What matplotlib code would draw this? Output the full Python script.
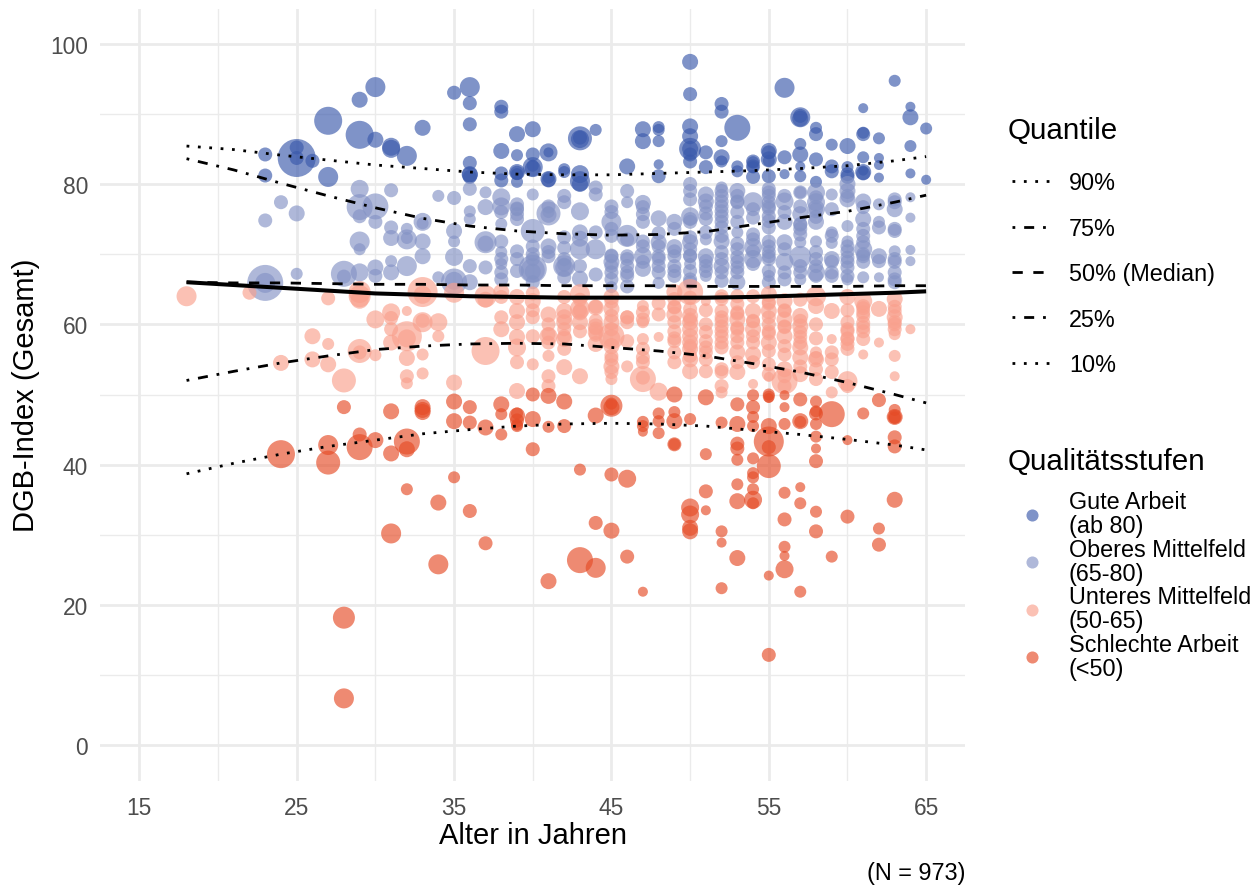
import numpy as np
import matplotlib
matplotlib.use("Agg")
import matplotlib.pyplot as plt
from matplotlib.lines import Line2D
from matplotlib.legend_handler import HandlerLine2D

plt.rcParams['font.family'] = ['Liberation Sans', 'DejaVu Sans']

# Punktdaten je Qualitaetsstufe: Alter, DGB-Index je Alter, Gewicht je Punkt
gute_alter = [23,25,26,27,29,30,31,32,33,35,36,38,39,40,41,42,43,44,46,47,48,50,51,52,53,54,55,56,57,58,59,60,61,62,63,64,65]
gute_index = [[84.2,81.2],[83.7,85.2,83.7],[83.3],[89,81],[87,92],[93.8,86.3],[85.3,85],[84],[88],[93],
 [93.8,91.5,88.5,83,81.4,81,81.3],[91,90.3,84.7,80.5,81.5],[87.1,84.1,81.7,81.6,81.4,80.3],[87.8,84.2,82.4,82.2,82.6],[84.5,84.5,80.7,80.5,80.9],[82.1,81.7],
 [86.5,86.4,86.6,81.4,80.4,80],[87.7],[82.5],[87.8,86.1],[88.1,87.7,86.1,82.8,81.1],[97.4,92.8,88.2,86.8,85,85,84.2,83.2],[84.5,82.4],[91.4,90.3,86.1,83.8,83.2],
 [88,82.5,81.8],[83.2,82.5,81,83.1,82.4],[84.7,83.5,81.1,84.5,83.3],[93.7,83.8,81.4],[89.5,89.3,89.7,85.7,84.2,82.5,81.1],[88,87.1,83.5,80.3],[85.6,82.5,81.8],
 [85.4,82.4,81.4,81],[90.8,87.1,87.3,83.8,81.7,81.5,81.9],[86.5,83.7,82.7,80.9],[94.7],[91,89.5,85.4,81.5],[87.9,80.6]]
gute_gewicht = [[7,7],[19,7,7],[7],[14,10],[14,8],[10,8],[9,9],[10],[8],[7],
 [10,7,7,7,8,7,8],[7,7,8,7,7],[8,6,8,7,6,6],[8,7,10,8,6],[9,5,8,7,6],[6,6],
 [12,9,7,9,10,8],[6],[8],[8,8],[6,6,6,5,7],[8,7,8,8,11,8,7,7],[7,7],[7,7,6,8,6],
 [13,6,6],[7,7,7,6,6],[8,8,7,7,6],[10,7,5],[10,8,7,6,8,5,6],[6,7,7,6],[6,7,7],
 [8,6,7,7],[5,7,6,6,8,7,5],[6,5,5,5],[6],[5,8,6,5],[6,5]]

oberes_alter = [23,24,25,28,29,30,31,32,33,34,35,36,37,38,39,40,41,42,43,44,45,46,47,48,49,50,51,52,53,54,55,56,57,58,59,60,61,62,63,64]
oberes_index = [[74.8,65.9,65.9],[77.4],[75.8,67.2],[67.2,66.8],[79.3,76.7,75.4,71.8,70.7,67.4],[76.8,74.6,68.1,66.9],[79.1,73.8,72.3,69,67.4],[73.6,72.1,68.3,72.3],
 [74.6,71.8,69.7,74.4],[78.3,66.7],[78,73.3,71.8,69.6,66.1,66.2],[79.3,76.1,75,68.3,66],[78.8,76.7,71.7,71.5,68.1],[78.1,76.8,74.3,71.8,70.3,68.6,66.4],[77.1,75.7,75,70.4,67.6,76.5],
 [78.5,73.3,70,67.9,67.7,67.5,66],[75.8,75.6,76,71.1,69.7],[78.3,68.3,68.1,68.5,66.7,70.9,72.4],[76.1,73.1,70.7,66.5,68.3,72.2],[79.5,78.5,70.7,67.1,73.1],[76.8,74.6,72.6,68.9,68.3,65.3,69.8],
 [79,77.4,72.6,69.7,68.3,66.9],[77.3,75.7,69.7,67.9,71.8],[75.1,71.7,69.7,68.3,65.9,73],[74.6,71,68.3,66.9,70.4],[80,75.4,74.6,71.7,70.7,68.6,66.4,77.8,69.8],[78.5,77.5,72.1,69.7,68.3,66.9,75.8],
 [79.5,78.3,76.8,75.4,71.8,70.3,68.3,66.2,73.8],[79,76,73.1,69.6,68.9,66,71.5,77.5],[77.4,72.8,71,69.3,75.2],[79.3,78.3,77.4,75.4,71.8,70.3,69.7,66.9,73.8,76.5],[77.5,74.6,71.7,68.9,66.4],
 [78.8,75.7,72.8,71.7,69.6,66.4,74.2],[78.8,77.4,76.4,74.6,71.8,69.3,67.4],[78.5,76.4,73.1,71.6,69.3,67.4],[80,79,77.8,74,71.8,70.4,68.1,66.4,69.5],[77.5,75,72.6,70.7,66.7,70],[77.1,74.6,69.7,66.7],
 [77.8,76.4,73.3,70.4,68.9,66.4],[78.1,75.2,70.6,69]]
oberes_gewicht = [[7,18,10],[7],[8,6],[13,7],[9,13,7,10,6,9],[13,7,8,7],[7,7,8,6,8],[6,10,10,6],
 [9,8,8,6],[6,6],[7,8,6,9,13,9],[7,6,6,7,8],[6,8,11,8,7],[9,9,6,7,6,6,7],[7,7,7,7,7,7],
 [6,12,7,14,12,8,7],[12,8,6,8,7],[7,11,9,7,7,7,7],[9,8,10,8,7,8],[7,7,10,7,7],[7,10,7,8,7,6,7],
 [7,6,11,7,7,7],[8,7,9,8,7],[8,8,7,7,6,7],[8,8,7,7,7],[7,9,7,8,7,6,7,7,7],[8,8,6,8,7,6,7],
 [6,7,7,7,8,7,8,7,7],[8,7,6,7,7,8,7,7],[10,7,9,9,7],[7,7,7,7,7,7,7,6,7,7],[9,8,8,9,7],
 [6,8,7,6,11,6,7],[9,9,9,8,6,7,9],[6,7,6,6,8,7],[8,8,8,6,6,7,7,6,7],[8,8,7,9,6,7],[6,6,8,5],
 [7,8,7,6,7,7],[5,5,5,5]]
# weitere, dicht ueberlagerte Punkte (einheitliches Gewicht)
oberes_dicht_alter = [38,39,40,41,42,45,46,47,48,49,50,51,52,53,54,55,56,57,58,59,60,61,62,63]
oberes_dicht_index = [[76,69.3,67.4],[76.4,69.3],[71.1,69.3],[76.8,70.3],[77.4,69.3],[76,73.6,69.7,67.4,66.4],[72.1,69.3,67.4,65.4],[76.7,74.6,71.1,68.9],[71.1,69.3,67.4],[73.6,69.7,67.6],
 [79,75,72.4,69.7,67.6,66],[76.8,75,73.1,69,67.6],[79,77.5,76.1,74.6,72.6,69.3,67.4],[78.3,77.4,74.6,70.7,68.1,67.4],[76.4,72.1,70.4,68.6],[78.8,76.8,74.7,71.1,69.3,67.6,66],[78.3,76,70.7,67.4],
 [78.8,76.8,74.3,73.6,68.3,67.4],[78.1,76.4,75.3,70.3,68.3,66.9],[72.6,68.9,66.9],[78.3,71.1,68.9,66.9],[76.7,73.6,71.7,69.7,68.9],[73.8,69],[77.4,73.6,69.3,67.4,66]]

unteres_alter = [18,22,24,26,27,28,29,30,31,32,33,34,35,37,38,39,40,41,42,43,44,45,46,47,48,49,50,51,52,53,54,55,56,57,58,59,60,61,62,63,64]
unteres_index = [[64],[64.5],[54.5],[58.3,55],[63.7,57.2,54.3],[52],[64.6,64,63.5,56.2,56],[60.7,55.6],[61.7,59.3,57.4,60.9],[61.9,58.3,55.2,52.6,51.6,58],
 [64.6,64.2,60.3,55.7,53,60.5],[60.3,58.3],[64.5,51.7],[64,56.2,63.5],[64.6,61,59.3,63.9],[63.9,61.9,60.3,58.2,56.7,54.6,50.5],[63.3,61,58.3,54.3,64.4,62],[61.4,58.3,57.4,55.5,52.6,51.2,60],
 [63.9,61.9,61,60.3,57.9,53.9,58.3],[64.3,62.2,61.7,60.3,52.6,63.5],[62.4,59.7,58.9,57.2,59.4,58.5],[63.9,62.2,60.3,58.3,56.9,54,52.2,58,55.5],[61,57.6,54,61],[62.6,60.3,57.9,55.3,52.2,52.4],[61.4,58.2,50.4,63],
 [64.6,61.4,59,57.6,54.6,62.5,58],[64.6,61.2,60.3,59.3,58.3,57.4,56.5,55,53.3,63.8],[63.3,60,57.6,56,53.3,62],[63.6,61.9,59.7,58.3,57.4,56.7,53.6,51.2,50.3,60.5,64],
 [64,62.9,60.7,58.3,56,53.2,61.5,59.5],[61.9,59.3,58.3,55.7,51.5,64,60.5],[64.3,61.9,60,57.4,54.3,52.5,63,58.7],[63.3,60.7,58.3,56.9,53.6,51.9,62,59.7],[61.2,59.7,58.2,56.7,55.3,52.9,63.5,60.5],
 [64,62.6,56,55,55.2,60,58],[61.9,57.9,56,55,53.2,50.3],[63.9,60.3,59,58,57.2,56.5,51.9,62],[63.3,61.2,60.2,59,57.9,55.7,62.3],[62.2,57.4],[63.6,61,58.6,55.5,52.6,62.5,60],[59.3]]
unteres_gewicht = [[10],[7],[8],[8,8],[7,6,8],[12],[11,11,9,12,7],[9,6],[9,7,8,7],[5,15,8,7,6,9],
 [15,9,10,6,6,7],[9,6],[10,8],[11,14,8],[8,7,8,7],[8,8,8,8,9,7,8],[8,7,7,6,7,7],[8,9,7,6,7,7,7],
 [7,8,8,8,8,8,7],[10,10,8,8,8,7],[8,8,8,8,7,7],[8,8,8,13,8,8,6,9,7],[7,7,6,7],[6,6,6,7,13,7],[7,5,9,7],
 [8,8,7,7,7,7,7],[13,8,8,8,8,8,8,8,8,7],[5,7,7,7,7,7],[7,7,7,7,7,7,7,7,6,7,7],[7,7,8,7,8,8,7,7],[8,8,7,8,5,7,7],
 [8,8,7,8,7,5,7,7],[8,8,8,7,8,13,7,7],[8,8,7,8,8,8,7,7],[10,8,6,8,7,7,7],[8,5,7,7,7,6],[8,7,7,7,7,7,10,7],
 [9,7,7,7,7,5,7],[8,5],[8,8,6,6,5,7,7],[5]]
unteres_dicht_alter = [41,42,43,44,45,46,47,49,50,51,52,53,54,55,56,57,58,60,61,63]
unteres_dicht_index = [[58.6],[59.3,56.5],[59,62],[62.5,60.5],[63.2,61.2,59.3,55,53.2],[60.3],[61.7,60.7,56.5,54.6],[63.6,62.4,60.3,56],[62.2,60.7,56.9,55.5],[58.9,56.7,55],[61,59,53.2],
 [61.7,59.3,57.4,54.6],[60.4,57.4,54.6],[63.2,61,59,56.2,52.9],[61.9,59.6,55.7,52.6,51.2],[58.9,57.4,54],[53.6,52.2],[59.3,57.9,51.2],[62.6,61.7,59.6],[61.9,60.3,59.3]]

schlecht_alter = [24,27,28,29,30,31,32,33,34,35,36,37,38,39,40,41,42,43,44,45,46,47,48,49,50,51,52,53,54,55,56,57,58,59,60,61,62,63]
schlecht_index = [[41.5],[42.8,40.3],[48.2,18.2,6.7],[44.3,42.5],[43.5],[47.6,41.6,30.2],[43.3,42.2,36.5],[48.2,47.5,47.8],[34.6,25.8],[49,46.2,38.2],[48.2,46,33.4],[45.3,28.8],[48.6,47.2,44.3],
 [47,46.3,45.5,45.7,47.3],[50,46.5,42.2],[49.8,23.4,45.4],[49,45.5],[39.3,26.4],[47,31.7,25.3],[48.4,48.2,48.7,38.6,30.6],[38,26.9],[46.1,45.5,44.7,21.9],[44.5,47.3,46.2],[50,47.5,46.2,42.9,42.9],
 [46.5,33.9,32.9,31,30.5],[49.6,41.5,36.2,33.5],[46,30.5,28.9,22.4],[48.6,45.8,43,42.3,40.7,37.2,34.8,26.7],[49.9,48.2,46.8,45.5,40.9,38.8,38.2,36.5,35,34.5],[50,49.7,49.5,45.5,42.5,43.3,39.8,24.2,12.9],
 [49.9,48.2,45.8,36,32.2,28.3,27,25.1],[49.3,46.2,46.1,36.8,34.5,21.9],[49,47.3,47.6,45.8,44,42.3,40.5,33.3,30.5],[47.2,26.9],[43.5,32.6],[47.3],[49.2,30.9,28.6],[47.8,46.8,46.8,46.7,43.9,42.6,35]]
schlecht_gewicht = [[14],[10,12],[7,11,10],[7,13],[8],[8,8,10],[13,8,6],[8,8,8],[8,10],[8,8,6],[7,7,7],[8,7],[8,6,6],
 [8,7,6,6,6],[7,8,7],[8,8,6],[8,7],[6,13],[8,7,10],[11,8,6,7,8],[9,7],[6,6,5,5],[6,6,6],[8,6,8,7,6],
 [6,9,9,8,8],[8,6,7,5],[6,6,5,6],[7,8,7,7,6,6,8,8],[6,7,6,6,6,6,6,6,9,6],[6,6,5,8,7,15,12,5,7],
 [5,5,6,6,7,6,5,9],[7,8,6,5,6,6],[6,7,6,6,6,5,7,6,7],[13,6],[5,7],[6],[7,6,7],[6,8,7,6,7,7,8]]

# Quantilskurven
kurve_alter = [18,21,24,27,30,33,36,39,42,45,48,51,54,57,60,63,65]
q90 = [85.4,84.9,84.1,83.4,82.7,82.2,81.7,81.4,81.3,81.3,81.5,81.7,81.9,82.2,82.6,83.3,83.9]
q75 = [83.6,82.0,80.1,78.3,76.6,75.1,74.0,73.3,72.9,72.7,72.8,73.2,74.2,75.2,76.1,77.4,78.4]
q50 = [66,65.9,65.9,65.8,65.7,65.7,65.6,65.6,65.5,65.5,65.5,65.4,65.4,65.4,65.4,65.5,65.5]
mittel = [66,65.6,65.2,64.8,64.4,64.2,64.0,63.9,63.8,63.8,63.8,63.8,63.9,64.1,64.3,64.5,64.7]
q25 = [52,53.3,54.5,55.5,56.4,56.9,57.2,57.3,57.2,56.7,56.2,55.5,54.4,53.2,51.7,50.0,48.8]
q10 = [38.7,40.2,41.5,42.6,43.5,44.4,45,45.5,45.8,45.9,45.8,45.5,44.9,44.3,43.6,42.8,42.1]

stufen_namen = ["Gute Arbeit\n(ab 80)", "Oberes Mittelfeld\n(65-80)", "Unteres Mittelfeld\n(50-65)", "Schlechte Arbeit\n(<50)"]
stufen_farben = ["#3A59AB", "#8493C5", "#F9A08D", "#E54B26"]
quantil_namen = ["90%", "75%", "50% (Median)", "25%", "10%"]
x_ticks = [15,25,35,45,55,65]
y_ticks = [0,20,40,60,80,100]

DOTTED = (0, (1, 3.1))
DOTDASH = (0, (1, 3.2, 3.6, 3.2))
DASHED = (0, (3.7, 3.8))

W, H = 1260, 887
fig = plt.figure(figsize=(W/100, H/100), dpi=100)
ax = fig.add_axes([100/W, 1-781.5/H, 865.5/W, 772/H])
ax.set_xlim(12.5, 67.5)
ax.set_ylim(-5, 105)
for s in ax.spines.values():
    s.set_visible(False)
ax.set_xticks(x_ticks)
ax.set_yticks(y_ticks)
ax.set_xticks([20,30,40,50,60], minor=True)
ax.set_yticks([10,30,50,70,90], minor=True)
ax.grid(which='major', color='#EBEBEB', lw=2.0)
ax.grid(which='minor', color='#EBEBEB', lw=1.0)
ax.set_axisbelow(True)
ax.tick_params(which='both', length=0)
ax.tick_params(axis='x', labelsize=16.4, labelcolor='#4D4D4D', pad=11.5)
ax.tick_params(axis='y', labelsize=16.4, labelcolor='#4D4D4D', pad=8.7)
ax.set_xlabel("Alter in Jahren", fontsize=21, labelpad=1)
ax.set_ylabel("DGB-Index (Gesamt)", fontsize=21, labelpad=7)

def punkte(alter, index, gewicht, farbe):
    n = [len(v) for v in index]
    assert len(alter) == len(index)
    xs = np.repeat(alter, n)
    ys = np.concatenate(index)
    if np.isscalar(gewicht):
        rs = np.full(len(ys), gewicht)
    else:
        assert n == [len(v) for v in gewicht]
        rs = np.concatenate(gewicht)
    ax.scatter(xs, ys, s=(2*rs*0.72)**2, c=farbe, alpha=0.65, linewidths=0, zorder=2)

punkte(gute_alter, gute_index, gute_gewicht, stufen_farben[0])
punkte(oberes_alter, oberes_index, oberes_gewicht, stufen_farben[1])
punkte(oberes_dicht_alter, oberes_dicht_index, 7, stufen_farben[1])
punkte(unteres_alter, unteres_index, unteres_gewicht, stufen_farben[2])
punkte(unteres_dicht_alter, unteres_dicht_index, 7, stufen_farben[2])
punkte(schlecht_alter, schlecht_index, schlecht_gewicht, stufen_farben[3])

kw = dict(color='black', lw=2.0, zorder=3, dash_capstyle='butt')
ax.plot(kurve_alter, q90, ls=DOTTED, **kw)
ax.plot(kurve_alter, q75, ls=DOTDASH, **kw)
ax.plot(kurve_alter, q50, ls=DASHED, **kw)
ax.plot(kurve_alter, q25, ls=DOTDASH, **kw)
ax.plot(kurve_alter, q10, ls=DOTTED, **kw)
ax.plot(kurve_alter, mittel, color='black', lw=2.9, zorder=3, solid_capstyle='butt')

LEG_FS = 16.8
h1 = [Line2D([], [], color='black', lw=2.0, ls=l, dash_capstyle='butt') for l in (DOTTED, DOTDASH, DASHED, DOTDASH, DOTTED)]
leg1 = fig.legend(h1, quantil_namen, loc='upper left', bbox_to_anchor=(1000/W, 1-109/H), frameon=False,
                  fontsize=LEG_FS, title="Quantile", title_fontsize=21.3, alignment='left',
                  handlelength=2.06, handletextpad=0.55, labelspacing=0.96, borderaxespad=0, borderpad=0.34,
                  handler_map={Line2D: HandlerLine2D(numpoints=2, marker_pad=0.17)})
leg1._legend_box.sep += 3.6

h2 = [Line2D([], [], ls='none', marker='o', ms=8.7, mfc=c, mec='none', alpha=0.65) for c in stufen_farben]
leg2 = fig.legend(h2, stufen_namen, loc='upper left', bbox_to_anchor=(1000/W, 1-440/H), frameon=False,
                  fontsize=LEG_FS, title="Qualitätsstufen", title_fontsize=21.3, alignment='left',
                  handlelength=2.06, handletextpad=0.55, labelspacing=0.015, borderaxespad=0, borderpad=0.34)
for t in leg2.get_texts():
    t.set_linespacing(1.06)
leg2._legend_box.sep += 10.8

fig.text(965/W, 1-874/H, "(N = 973)", ha='right', va='center', fontsize=16.9)

fig.savefig("out.png", dpi=100, facecolor='white')
